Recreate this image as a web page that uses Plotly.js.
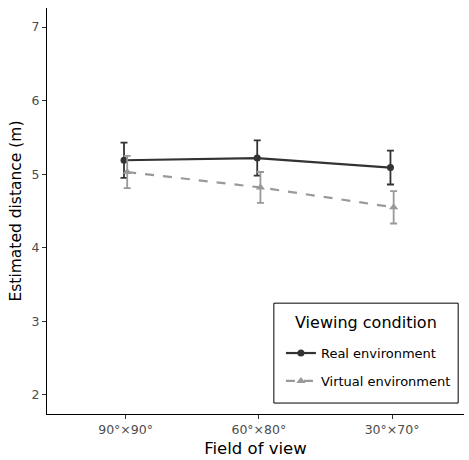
<!DOCTYPE html>
<html>
<head>
<meta charset="utf-8">
<script src="https://cdn.plot.ly/plotly-3.0.1.min.js"></script>
<style>html,body{margin:0;padding:0;background:#fff;}#chart{width:469px;height:460px;}</style>
</head>
<body>
<div id="chart"></div>
<script>
const categories = ["90°×90°", "60°×80°", "30°×70°"];
const realMean = [5.19, 5.22, 5.09];
const realErr = [0.24, 0.24, 0.23];
const virtualMean = [5.03, 4.82, 4.55];
const virtualErr = [0.22, 0.21, 0.22];
const yTicks = [2, 3, 4, 5, 6, 7];
const legendTitle = "Viewing condition";

const idx = categories.map((c, i) => i);
const dodge = 0.012;

const traces = [
  {
    name: "Real environment", legendgroup: "a",
    x: idx.map(i => i - dodge), y: realMean,
    type: "scatter", mode: "lines+markers",
    line: {color: "#333333", width: 2.2},
    marker: {color: "#333333", size: 7, symbol: "circle"},
    error_y: {type: "data", array: realErr, visible: true, color: "#333333", thickness: 1.8, width: 3.5}
  },
  {
    name: "Virtual environment", legendgroup: "b",
    x: idx.map(i => i + dodge), y: virtualMean,
    type: "scatter", mode: "lines+markers",
    line: {color: "#999999", width: 2.2, dash: "dash"},
    marker: {color: "#999999", size: 8, symbol: "triangle-up"},
    error_y: {type: "data", array: virtualErr, visible: true, color: "#999999", thickness: 1.8, width: 3.5}
  }
];

const layout = {
  width: 469, height: 460,
  margin: {l: 47, r: 5, t: 8, b: 46},
  paper_bgcolor: "#ffffff", plot_bgcolor: "#ffffff",
  font: {family: "DejaVu Sans, sans-serif", color: "#000000"},
  showlegend: true,
  xaxis: {
    range: [-0.59, 2.54],
    tickvals: idx, ticktext: categories,
    showgrid: false, zeroline: false,
    showline: true, linecolor: "#000000", linewidth: 1,
    ticks: "outside", ticklen: 4, tickcolor: "#333333", tickwidth: 1,
    tickfont: {size: 12.5, color: "#4d4d4d"},
    title: {text: "Field of view", font: {size: 16.5, color: "#000000"}, standoff: 6}
  },
  yaxis: {
    range: [1.74, 7.26],
    tickvals: yTicks,
    showgrid: false, zeroline: false,
    showline: true, linecolor: "#000000", linewidth: 1,
    ticks: "outside", ticklen: 4, tickcolor: "#333333", tickwidth: 1,
    tickfont: {size: 12.5, color: "#4d4d4d"},
    title: {text: "Estimated distance (m)", font: {size: 15.5, color: "#000000"}, standoff: 6}
  },
  shapes: [{
    type: "rect", xref: "paper", yref: "paper",
    x0: 0.544, x1: 0.986, y0: 0.027, y1: 0.273,
    line: {color: "#000000", width: 1}, fillcolor: "rgba(0,0,0,0)"
  }],
  annotations: [{
    text: legendTitle, xref: "paper", yref: "paper",
    x: 0.764, y: 0.2266, xanchor: "center", yanchor: "middle",
    showarrow: false, font: {size: 16, color: "#000000"}
  }],
  legend: {
    x: 0.561, y: 0.187, xanchor: "left", yanchor: "top",
    borderwidth: 0, bgcolor: "rgba(0,0,0,0)",
    font: {size: 13, color: "#000000"},
    traceorder: "grouped", tracegroupgap: 8, itemwidth: 30
  }
};

Plotly.newPlot("chart", traces, layout, {displayModeBar: false, staticPlot: true});
</script>
</body>
</html>
